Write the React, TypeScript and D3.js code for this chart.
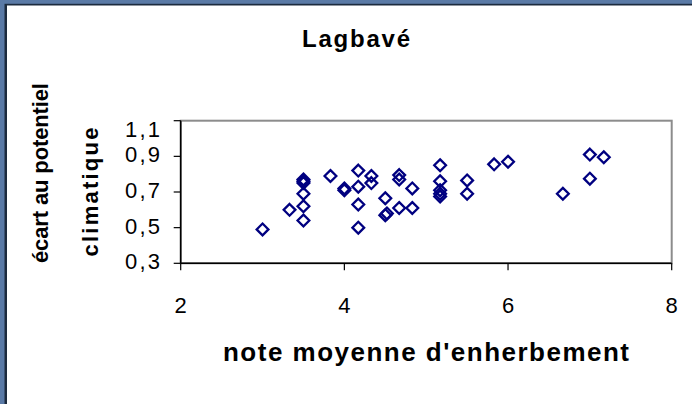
import React from 'react';
import * as d3 from 'd3';

// values
const noteX = [3.0, 3.33, 3.5, 3.5, 3.5, 3.5, 3.5, 3.5, 3.83, 4.0, 4.0, 4.17, 4.17, 4.17, 4.17, 4.33, 4.33, 4.5, 4.5, 4.52,
  4.67, 4.67, 4.67, 4.83, 4.83, 5.17, 5.17, 5.17, 5.17, 5.17, 5.5, 5.5, 5.83, 6.0, 6.67, 7.0, 7.0, 7.17];
const ecartY = [0.49, 0.60, 0.54, 0.62, 0.69, 0.75, 0.76, 0.77, 0.79, 0.72, 0.71, 0.82, 0.73, 0.63, 0.50, 0.79, 0.75, 0.665, 0.57, 0.58,
  0.795, 0.77, 0.61, 0.72, 0.61, 0.85, 0.76, 0.71, 0.69, 0.675, 0.765, 0.69, 0.855, 0.87, 0.69, 0.775, 0.91, 0.895];
const xTicks = [2, 4, 6, 8];
const yTicks = [0.3, 0.5, 0.7, 0.9, 1.1];

const W = 692;
const H = 404;
const FONT = 'Liberation Sans, Arial, sans-serif';

export default function App() {
  const left = 180.7, right = 671.7, top = 120.7, bottom = 263.3;
  const x = d3.scaleLinear().domain([2, 8]).range([left, right]);
  const y = d3.scaleLinear().domain([0.3, 1.1]).range([bottom, top]);
  const fmt = (v: number) => d3.format('.1f')(v).replace('.', ',');
  const diamond = d3.symbol().type(d3.symbolDiamond2).size(88)();

  return (
    <div style={{ position: 'fixed', left: 0, top: 0 }}>
      <svg width={W} height={H} style={{ display: 'block' }}>
        {/* frame */}
        <rect x={0} y={0} width={W} height={H} fill="#5a7aa6" />
        <rect x={4.5} y={3.8} width={W} height={H} fill="#1c2b3e" />
        <rect x={7} y={5.5} width={W} height={H} fill="#ffffff" />

        <text x={356} y={47} textAnchor="middle" fontFamily={FONT} fontWeight="bold" fontSize={24}
          textLength={108} lengthAdjust="spacing">Lagbavé</text>

        {/* plot area border */}
        <rect x={left} y={top} width={right - left} height={bottom - top} fill="none" stroke="#8c8c8c" strokeWidth={2} />

        {/* y axis */}
        <line x1={left} x2={left} y1={top} y2={bottom} stroke="#000" strokeWidth={1.5} />
        {yTicks.map((t, i) => (
          <g key={'y' + t}>
            <line x1={left - 7} x2={left} y1={y(t)} y2={y(t)} stroke="#000" strokeWidth={1.2} />
            <text x={160} y={y(t) + (i === yTicks.length - 1 ? 16 : 6)} textAnchor="end" fontFamily={FONT}
              fontSize={22} textLength={35} lengthAdjust="spacing">{fmt(t)}</text>
          </g>
        ))}

        {/* x axis */}
        <line x1={left} x2={right} y1={bottom} y2={bottom} stroke="#000" strokeWidth={1.5} />
        {xTicks.map((t) => (
          <g key={'x' + t}>
            <line x1={x(t)} x2={x(t)} y1={bottom} y2={bottom + 7} stroke="#000" strokeWidth={1.2} />
            <text x={x(t)} y={313} textAnchor="middle" fontFamily={FONT} fontSize={22}>{t}</text>
          </g>
        ))}

        {/* points */}
        {noteX.map((v, i) => (
          <path key={i} d={diamond!} transform={`translate(${x(v)},${y(ecartY[i])})`}
            fill="none" stroke="#000080" strokeWidth={2.3} />
        ))}

        <text x={426} y={361} textAnchor="middle" fontFamily={FONT} fontWeight="bold" fontSize={26}
          textLength={406} lengthAdjust="spacing">note moyenne d'enherbement</text>

        <text transform="translate(48,173) rotate(-90)" textAnchor="middle" fontFamily={FONT} fontWeight="bold"
          fontSize={22} textLength={180} lengthAdjust="spacing">écart au potentiel</text>
        <text transform="translate(98,192) rotate(-90)" textAnchor="middle" fontFamily={FONT} fontWeight="bold"
          fontSize={22} textLength={129} lengthAdjust="spacing">climatique</text>
      </svg>
    </div>
  );
}
